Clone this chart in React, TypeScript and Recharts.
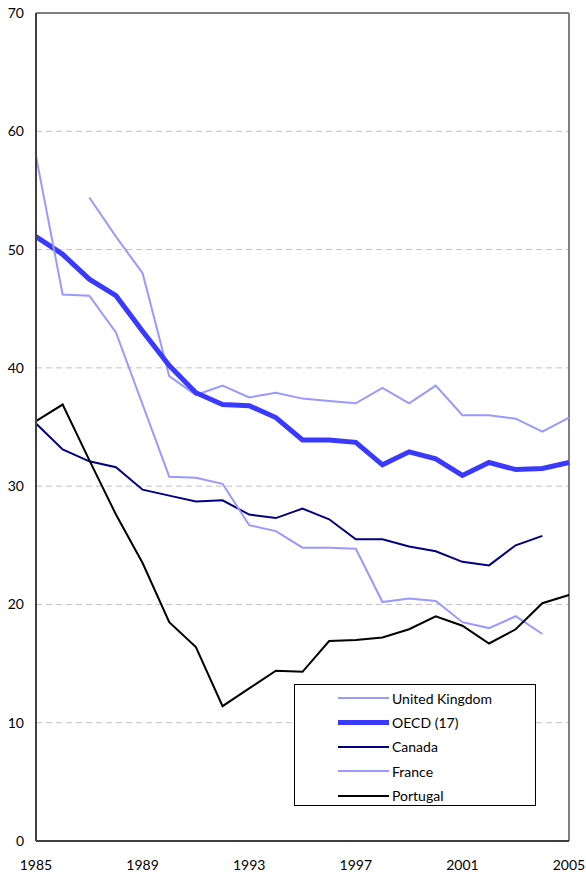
import { LineChart, Line, XAxis, YAxis, CartesianGrid, ReferenceLine } from 'recharts';

const years = [1985, 1986, 1987, 1988, 1989, 1990, 1991, 1992, 1993, 1994, 1995, 1996, 1997, 1998, 1999, 2000, 2001, 2002, 2003, 2004, 2005];

const unitedKingdom = [null, null, 54.4, 51.1, 48.0, 39.3, 37.7, 38.5, 37.5, 37.9, 37.4, 37.2, 37.0, 38.3, 37.0, 38.5, 36.0, 36.0, 35.7, 34.6, 35.8];
const oecd = [51.1, 49.6, 47.5, 46.1, 43.1, 40.2, 37.9, 36.9, 36.8, 35.8, 33.9, 33.9, 33.7, 31.8, 32.9, 32.3, 30.9, 32.0, 31.4, 31.5, 32.0];
const canada = [35.3, 33.1, 32.1, 31.6, 29.7, 29.2, 28.7, 28.8, 27.6, 27.3, 28.1, 27.2, 25.5, 25.5, 24.9, 24.5, 23.6, 23.3, 25.0, 25.8, null];
const france = [57.9, 46.2, 46.1, 43.0, 36.9, 30.8, 30.7, 30.2, 26.7, 26.2, 24.8, 24.8, 24.7, 20.2, 20.5, 20.3, 18.5, 18.0, 19.0, 17.5, null];
const portugal = [35.5, 36.9, 32.2, 27.6, 23.5, 18.5, 16.4, 11.4, 12.9, 14.4, 14.3, 16.9, 17.0, 17.2, 17.9, 19.0, 18.2, 16.7, 17.9, 20.1, 20.8];

const xTicks = [1985, 1989, 1993, 1997, 2001, 2005];
const yTicks = [0, 10, 20, 30, 40, 50, 60, 70];

const series = [
  { key: 'uk', name: 'United Kingdom', values: unitedKingdom, color: '#9999ff', width: 2 },
  { key: 'oecd', name: 'OECD (17)', values: oecd, color: '#3a3aff', width: 5 },
  { key: 'canada', name: 'Canada', values: canada, color: '#000080', width: 2 },
  { key: 'france', name: 'France', values: france, color: '#9999ff', width: 2 },
  { key: 'portugal', name: 'Portugal', values: portugal, color: '#000000', width: 2 },
];

const rows = years.map((year, i) => {
  const row: Record<string, number | null> = { year };
  series.forEach((s) => {
    row[s.key] = s.values[i];
  });
  return row;
});

const font = 'Lato, "Open Sans", sans-serif';
const tickStyle = { fontSize: 14, fill: '#000', fontFamily: font };

function ChartLegend() {
  return (
    <div
      style={{
        position: 'absolute',
        left: 294,
        top: 684,
        width: 242,
        height: 122,
        border: '1px solid #000',
        background: '#fff',
        boxSizing: 'border-box',
        fontFamily: font,
        fontSize: 14,
        color: '#000',
      }}
    >
      {series.map((s, i) => (
        <div
          key={s.key}
          style={{ position: 'absolute', left: 43, top: 4 + i * 24.4, height: 18, display: 'flex', alignItems: 'center' }}
        >
          <div style={{ width: 51, height: s.width, background: s.color }} />
          <span style={{ marginLeft: 3, whiteSpace: 'nowrap' }}>{s.name}</span>
        </div>
      ))}
    </div>
  );
}

export default function App() {
  return (
    <div style={{ position: 'absolute', left: 0, top: 0, width: 586, height: 878, background: '#fff' }}>
      <LineChart width={586} height={878} data={rows} margin={{ top: 13, right: 17, left: 0, bottom: 0 }}>
        <CartesianGrid vertical={false} stroke="#c0c0c0" strokeDasharray="6 4" />
        <XAxis
          dataKey="year"
          type="number"
          domain={[1985, 2005]}
          ticks={xTicks}
          height={37}
          tickSize={0}
          tickMargin={19}
          tick={tickStyle}
          axisLine={{ stroke: '#404040', strokeWidth: 2 }}
          interval={0}
        />
        <YAxis
          type="number"
          domain={[0, 70]}
          ticks={yTicks}
          width={36}
          tickSize={0}
          tickMargin={12}
          tick={tickStyle}
          axisLine={{ stroke: '#404040', strokeWidth: 2 }}
          interval={0}
        />
        <ReferenceLine y={70} stroke="#808080" strokeWidth={2} />
        <ReferenceLine x={2005} stroke="#808080" strokeWidth={2} />
        {series.map((s) => (
          <Line
            key={s.key}
            dataKey={s.key}
            name={s.name}
            type="linear"
            stroke={s.color}
            strokeWidth={s.width}
            dot={false}
            activeDot={false}
            isAnimationActive={false}
          />
        ))}
      </LineChart>
      <ChartLegend />
    </div>
  );
}
